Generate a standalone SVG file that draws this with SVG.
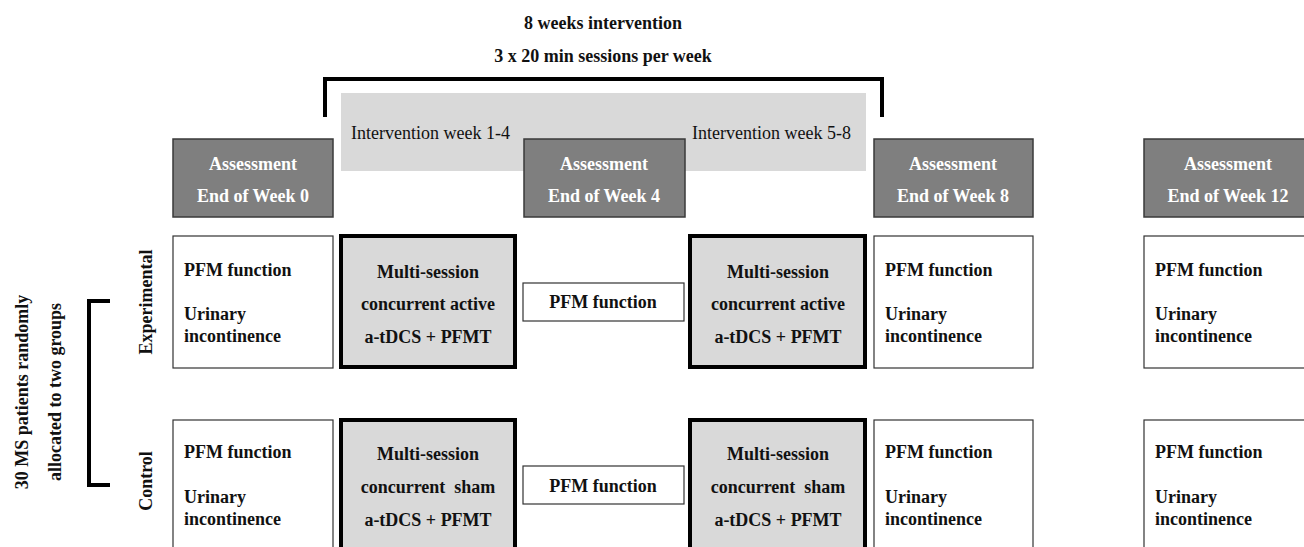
<svg xmlns="http://www.w3.org/2000/svg" width="1304" height="547" viewBox="0 0 1304 547">
<style>
text{font-family:"Liberation Serif","Times New Roman",serif;font-size:18px;fill:#111}
.b{font-weight:bold}
.c{text-anchor:middle}
.w{fill:#fff;font-weight:bold;text-anchor:middle}
.assess{fill:#7f7f7f;stroke:#3a3a3a;stroke-width:1.5}
.out{fill:#fff;stroke:#333;stroke-width:1.2}
.tx{fill:#d9d9d9;stroke:#000;stroke-width:4}
.br{fill:none;stroke:#000;stroke-width:4}
</style>
<rect x="0" y="0" width="1304" height="547" fill="#fff"/>
<g id="title">
<text class="b c" x="603" y="29">8 weeks intervention</text>
<text class="b c" x="603" y="62">3 x 20 min sessions per week</text>
</g>
<g id="connectors">
<path class="br" d="M325,117 V79 H882 V117"/>
<path class="br" d="M110,301 H89 V485 H110"/>
</g>
<g id="band">
<rect x="341" y="93" width="525" height="78" fill="#d9d9d9"/>
<text x="351" y="139">Intervention week 1-4</text>
<text x="692" y="139">Intervention week 5-8</text>
</g>
<g id="assess0"><rect class="assess" x="173" y="139" width="160" height="78"/><text class="w" x="253" y="170">Assessment</text><text class="w" x="253" y="202">End of Week 0</text></g>
<g id="assess4"><rect class="assess" x="524" y="139" width="161" height="78"/><text class="w" x="604" y="170">Assessment</text><text class="w" x="604" y="202">End of Week 4</text></g>
<g id="assess8"><rect class="assess" x="874" y="139" width="159" height="78"/><text class="w" x="953" y="170">Assessment</text><text class="w" x="953" y="202">End of Week 8</text></g>
<g id="assess12"><rect class="assess" x="1144" y="139" width="170" height="78"/><text class="w" x="1228" y="170">Assessment</text><text class="w" x="1228" y="202">End of Week 12</text></g>
<g id="groupLabel">
<text class="b c" transform="translate(28,392) rotate(-90)">30 MS patients randomly</text>
<text class="b c" transform="translate(61,392) rotate(-90)">allocated to two groups</text>
</g>
<g id="expLabel"><text class="b c" transform="translate(152,302) rotate(-90)">Experimental</text></g>
<g id="ctrlLabel"><text class="b c" transform="translate(152,481) rotate(-90)">Control</text></g>
<g id="exp0"><rect class="out" x="173" y="236" width="160" height="132"/><text class="b" x="184" y="276">PFM function</text><text class="b" x="184" y="320">Urinary</text><text class="b" x="184" y="342">incontinence</text></g>
<g id="exp1"><rect class="tx" x="341" y="236" width="174" height="131"/><text class="b c" x="428" y="278">Multi-session</text><text class="b c" x="428" y="310">concurrent active</text><text class="b c" x="428" y="343">a-tDCS + PFMT</text></g>
<g id="exp4"><rect class="out" x="523" y="283" width="161" height="38"/><text class="b c" x="603" y="308">PFM function</text></g>
<g id="exp2"><rect class="tx" x="690" y="236" width="175" height="131"/><text class="b c" x="778" y="278">Multi-session</text><text class="b c" x="778" y="310">concurrent active</text><text class="b c" x="778" y="343">a-tDCS + PFMT</text></g>
<g id="exp8"><rect class="out" x="874" y="236" width="159" height="132"/><text class="b" x="885" y="276">PFM function</text><text class="b" x="885" y="320">Urinary</text><text class="b" x="885" y="342">incontinence</text></g>
<g id="exp12"><rect class="out" x="1144" y="236" width="170" height="132"/><text class="b" x="1155" y="276">PFM function</text><text class="b" x="1155" y="320">Urinary</text><text class="b" x="1155" y="342">incontinence</text></g>
<g id="ctl0"><rect class="out" x="173" y="420" width="160" height="140"/><text class="b" x="184" y="458">PFM function</text><text class="b" x="184" y="503">Urinary</text><text class="b" x="184" y="525">incontinence</text></g>
<g id="ctl1"><rect class="tx" x="341" y="420" width="174" height="140"/><text class="b c" x="428" y="460">Multi-session</text><text class="b c" x="428" y="493" xml:space="preserve">concurrent  sham</text><text class="b c" x="428" y="526">a-tDCS + PFMT</text></g>
<g id="ctl4"><rect class="out" x="523" y="466" width="161" height="38"/><text class="b c" x="603" y="492">PFM function</text></g>
<g id="ctl2"><rect class="tx" x="690" y="420" width="175" height="140"/><text class="b c" x="778" y="460">Multi-session</text><text class="b c" x="778" y="493" xml:space="preserve">concurrent  sham</text><text class="b c" x="778" y="526">a-tDCS + PFMT</text></g>
<g id="ctl8"><rect class="out" x="874" y="420" width="159" height="140"/><text class="b" x="885" y="458">PFM function</text><text class="b" x="885" y="503">Urinary</text><text class="b" x="885" y="525">incontinence</text></g>
<g id="ctl12"><rect class="out" x="1144" y="420" width="170" height="140"/><text class="b" x="1155" y="458">PFM function</text><text class="b" x="1155" y="503">Urinary</text><text class="b" x="1155" y="525">incontinence</text></g>
</svg>
